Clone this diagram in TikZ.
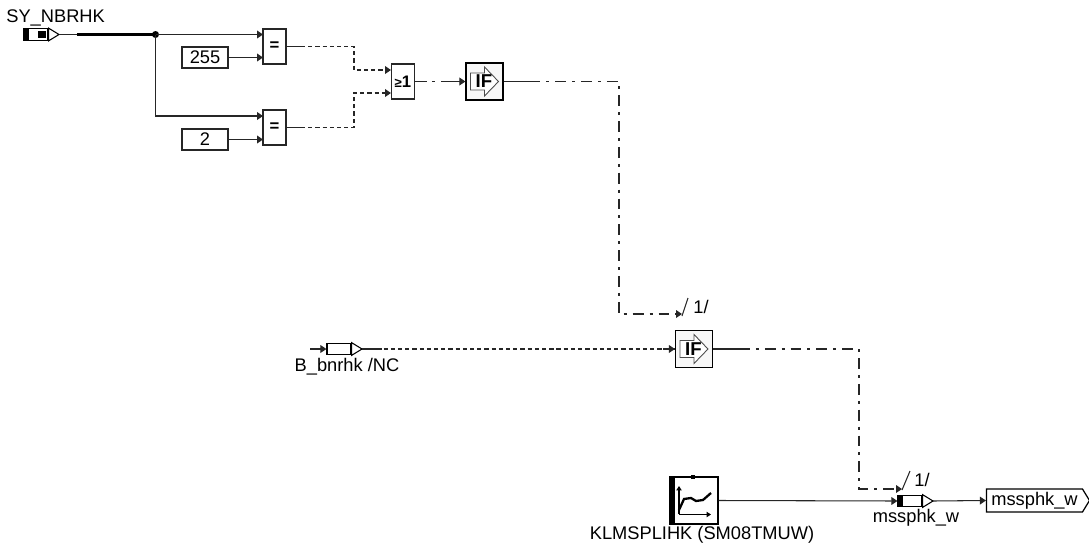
\documentclass[tikz,border=0pt]{standalone}
\usepackage{fontspec}
\setmainfont{Liberation Sans}
\usetikzlibrary{arrows.meta, shapes.symbols, calc}
\tikzset{
  wire/.style={line width=0.6pt, draw=black!85, -{Triangle[length=3.4pt, width=4.4pt]}},
  plain wire/.style={line width=0.6pt, draw=black!85},
  bool wire/.style={wire, dash pattern=on 2.4pt off 1.7pt},
  if wire/.style={wire, dash pattern=on 6.2pt off 3.4pt on 1.7pt off 3.4pt},
  opbox/.style={draw=black!85, line width=0.7pt, fill=white, inner sep=0pt, minimum width=0.46cm, minimum height=0.7cm, font=\fontsize{9.5}{10}\bfseries},
  constbox/.style={draw=black!85, line width=0.7pt, inner sep=0pt, minimum width=0.92cm, minimum height=0.42cm, font=\fontsize{10.4}{12}\selectfont},
  ifbox/.style={draw=black, line width=0.7pt, fill=black!3, inner sep=0pt, minimum width=0.74cm, minimum height=0.74cm},
  portbody/.style={draw=black, line width=0.7pt, fill=white, inner sep=0pt, minimum width=0.48cm, minimum height=0.23cm},
  label/.style={inner sep=0pt, font=\fontsize{10.4}{12}\selectfont},
}
\newcommand{\ifmark}[1]{
  \draw[black!70, line width=0.5pt, fill=white] ($(#1)+(-14,-8.5)$) -- ++(14,0) -- ++(0,-6) -- ++(14,14.5) -- ++(-14,14.5) -- ++(0,-6) -- ++(-14,0) -- cycle;
  \node[font=\fontsize{10.6}{11}\bfseries, inner sep=0pt] at ($(#1)+(-0.5,0)$) {IF};
}
\begin{document}
\begin{tikzpicture}[x=0.02cm, y=-0.02cm]
  \useasboundingbox (0,0) rectangle (1089,548);

  % Input SY_NBRHK
  \node[portbody] (syport) at (36,34.5) {};
  \fill (24,29) rectangle (29,40);
  \fill (38,31) rectangle (46,38);
  \draw[line width=0.6pt, fill=white] (syport.north east) -- (59,34.5) coordinate (sytip) -- (syport.south east) -- cycle;
  \node[label, anchor=west] (sylabel) at (6,18) {SY\_NBRHK};

  % Comparison blocks
  \node[opbox] (eqa) at (274.5,46.5) {=};
  \node[opbox] (eqb) at (274.5,127.5) {=};
  \node[constbox] (consta) at (205,57.5) {255};
  \node[constbox] (constb) at (205,139.5) {2};
  \coordinate (eqain) at (263,34.5);
  \coordinate (eqbin) at (263,116);
  \coordinate (branch) at (155.5,34.5);

  \draw[plain wire] (sytip) -- (branch);
  \draw[line width=1.3pt] (77,34.5) -- (branch);
  \fill (branch) circle (3.5);
  \draw[wire] (branch) -- (eqain);
  \draw[wire] (branch) |- (eqbin);
  \draw[wire] (consta.east) -- (263,57.5);
  \draw[wire] (constb.east) -- (263,139.5);

  % OR block
  \node[opbox] (orblock) at (403,81.5) {{\fontsize{7.5}{8}\selectfont ≥}1};
  \coordinate (orina) at (391,70);
  \coordinate (orinb) at (391,93);
  \draw[bool wire] (eqa.east) -- (354,46.5) -- (354,70) -- (orina);
  \draw[bool wire] (eqb.east) -- (354,127.5) -- (354,93) -- (orinb);
  \draw[plain wire] (eqa.east) -- ++(14,0);
  \draw[plain wire] (eqb.east) -- ++(14,0);

  % First IF block
  \node[ifbox] (ifa) at (484.5,81.5) {};
  \ifmark{ifa}
  \draw[if wire] (orblock.east) -- (ifa.west);
  \draw[plain wire] (orblock.east) -- ++(12,0);
  \draw[plain wire] (ifa.west) -- ++(-14,0);

  % Second IF block
  \node[ifbox] (ifb) at (694,349) {};
  \ifmark{ifb}
  \coordinate (ifbctl) at (682,314);
  \draw[if wire] (ifa.east) -- (619,81.5) -- (619,314) -- (ifbctl);
  \draw[plain wire] (ifa.east) -- ++(26,0);
  \draw[plain wire] (682,316) -- (688,298);
  \node[label, anchor=west] (ifbmark) at (693,307) {1/};

  % Input B_bnrhk
  \node[portbody] (bport) at (339,349) {};
  \draw[line width=0.6pt, fill=white] (bport.north east) -- (362,349) coordinate (btip) -- (bport.south east) -- cycle;
  \coordinate (bstart) at (310,349);
  \draw[wire] (bstart) -- (bport.west);
  \draw[bool wire] (btip) -- (ifb.west);
  \draw[plain wire] (btip) -- ++(20,0);
  \draw[plain wire] (ifb.west) -- ++(-12,0);
  \node[label] (blabel) at (347,367) {B\_bnrhk /NC};

  % Map block
  \node[draw=black, line width=0.7pt, inner sep=0pt, minimum width=0.96cm, minimum height=0.94cm] (klmap) at (694,500.5) {};
  \fill (670,477) rectangle (675,524);
  \fill (691,475) rectangle (695,479);
  \draw[-{Triangle[length=2.5pt, width=3pt]}, line width=0.8pt] (679,514) -- (679,486);
  \draw[-{Triangle[length=2.5pt, width=3pt]}, line width=0.8pt] (679,514.5) -- (711,514.5);
  \draw[line width=1.3pt] (679,510) -- (684,499) -- (691,498) -- (696,501) -- (703,500) -- (711,493);
  \node[label] (kllabel) at (702,535) {KLMSPLIHK (SM08TMUW)};

  % Output mssphk_w
  \node[portbody] (msport) at (910,501) {};
  \fill (898,495) rectangle (903,507);
  \draw[line width=0.6pt, fill=white] (msport.north east) -- (933,501) coordinate (mstip) -- (msport.south east) -- cycle;
  \node[label] (mslabel) at (916,518) {mssphk\_w};
  \draw[wire] (klmap.east) -- (msport.west);

  \coordinate (msctl) at (902,489);
  \draw[if wire] (ifb.east) -- (859,349) -- (859,489) -- (msctl);
  \draw[plain wire] (ifb.east) -- ++(26,0);
  \draw[plain wire] (902,490) -- (910,471);
  \node[label, anchor=west] (msmark) at (914,480) {1/};

  \node[signal, signal to=east, signal pointer angle=117, draw=black, line width=0.7pt, inner sep=0pt, minimum width=2.06cm, minimum height=0.46cm, label, font=\fontsize{10.4}{12}\selectfont] (msout) at (1034.5,500.5) {mssphk\_w\hspace{3pt}};
  \draw[wire] (mstip) -- (msout.west);
\end{tikzpicture}
\end{document}
